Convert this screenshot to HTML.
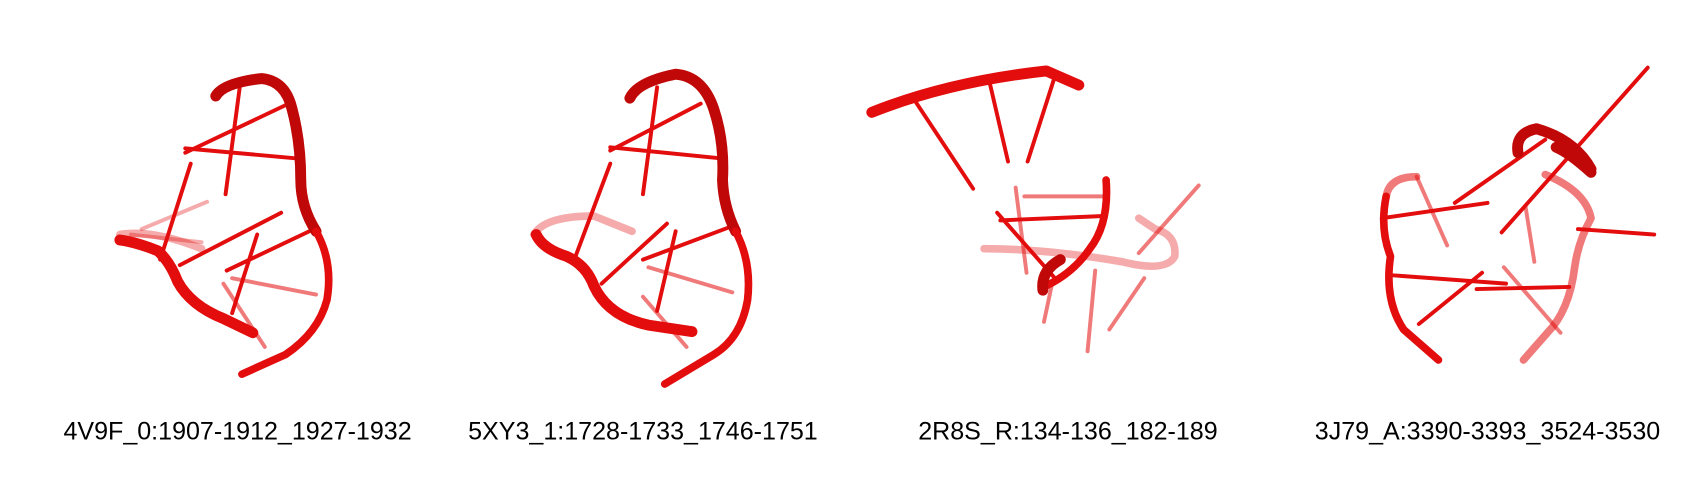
<!DOCTYPE html>
<html><head><meta charset="utf-8"><style>
html,body{margin:0;padding:0;background:#fff;width:1700px;height:480px;overflow:hidden}
svg{display:block}
text{font-family:"Liberation Sans",Arial,sans-serif;font-size:23px;fill:#000}
.t{fill:none;stroke:#e30d0d;stroke-linecap:round;stroke-linejoin:round}
.k{stroke-width:10}.m{stroke-width:7}.r{stroke-width:3.6}
.f{opacity:.55}.ff{opacity:.35}.dk{stroke:#c00808}
</style></head><body>
<svg width="1700" height="480" viewBox="0 0 1560 440" preserveAspectRatio="none">
<g>
 <path class="t r ff" d="M130 210 L190 185 M120 215 L185 222"/>
 <path class="t m ff" d="M110 215 Q140 210 185 228"/>
 <path class="t r" d="M220 80 L207 178 M265 95 L170 140 M170 136 L270 145 M175 150 L147 238 M258 195 L165 243 M236 215 L213 287 M288 210 L208 248"/>
 <path class="t r f" d="M213 255 L290 270 M205 260 L243 318"/>
 <path class="t k dk" d="M198 88 Q205 76 240 72 Q262 74 268 100 Q276 130 276 165 Q276 190 290 212"/>
 <path class="t m" d="M290 212 Q306 240 300 275 Q292 305 262 325 L222 343"/>
 <path class="t k" d="M110 220 Q125 222 145 230 Q156 240 163 258 Q175 280 205 292 L232 305"/>
</g>
<g>
 <path class="t m ff" d="M490 215 Q500 198 545 198 L580 212"/>
 <path class="t r" d="M603 80 L590 178 M643 95 L560 138 M560 135 L660 145 M560 150 L527 238 M612 205 L552 260 M620 212 L603 285 M670 208 L590 238"/>
 <path class="t r f" d="M595 245 L672 268 M590 272 L630 318"/>
 <path class="t k dk" d="M578 90 Q585 75 620 68 Q645 70 655 100 Q665 130 663 165 Q664 190 675 212"/>
 <path class="t m" d="M675 212 Q690 240 686 275 Q680 310 655 325 L610 352"/>
 <path class="t k" d="M492 215 Q498 228 520 235 Q538 243 545 262 Q558 290 595 298 L635 304"/>
</g>
<g>
 <path class="t r" d="M840 93 L893 173 M908 75 L925 148 M968 70 L943 148"/>
 <path class="t r f" d="M932 172 L942 250 M940 180 L1013 180 M1005 248 L998 322 M1050 255 L1018 302 M1100 170 L1045 232 M965 262 L958 295"/>
 <path class="t m ff" d="M903 228 Q960 228 1030 240 Q1070 250 1078 235 Q1080 215 1060 210 L1045 200"/>
 <path class="t r" d="M918 202 L1013 198 M915 195 L968 255"/>
 <path class="t k" d="M800 103 Q870 75 960 65 L990 78"/>
 <path class="t m" d="M1015 165 Q1018 205 1000 228 Q985 250 960 262"/>
 <path class="t k dk" d="M957 266 Q955 248 973 238"/>
</g>
<g>
 <path class="t r f" d="M1300 162 L1328 225 M1408 240 L1400 190 M1380 245 L1432 305"/>
 <path class="t r" d="M1512 62 L1378 213 M1418 128 L1335 186 M1268 200 L1365 186 M1448 210 L1518 215 M1273 252 L1382 260 M1360 250 L1302 297 M1355 265 L1440 263"/>
 <path class="t m f" d="M1300 162 Q1275 162 1272 180"/>
 <path class="t m" d="M1272 180 Q1266 210 1276 235 Q1270 275 1288 302 L1320 330"/>
 <path class="t m f" d="M1418 160 Q1455 175 1460 200 Q1448 222 1445 245 Q1440 285 1420 305 L1398 330"/>
 <path class="t k dk" d="M1393 140 Q1390 122 1410 118 Q1445 128 1460 155 M1428 135 Q1440 140 1460 158"/>
</g>
<text x="218" y="403" text-anchor="middle">4V9F_0:1907-1912_1927-1932</text>
<text x="590" y="403" text-anchor="middle">5XY3_1:1728-1733_1746-1751</text>
<text x="980" y="403" text-anchor="middle">2R8S_R:134-136_182-189</text>
<text x="1365" y="403" text-anchor="middle">3J79_A:3390-3393_3524-3530</text>
</svg>
</body></html>
